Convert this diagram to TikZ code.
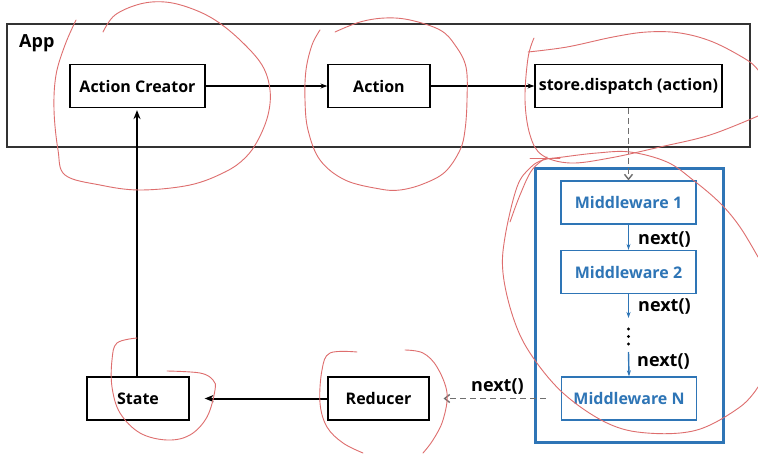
\documentclass[tikz,border=0pt]{standalone}
\usepackage{fontspec}
\setmainfont{Open Sans}
\usetikzlibrary{arrows.meta}
\definecolor{mwblue}{RGB}{46,117,182}
\definecolor{scribble}{RGB}{222,110,110}
\definecolor{dashgray}{RGB}{110,110,110}
\tikzset{
  box/.style={draw=black, line width=1.2pt, minimum height=43pt, inner sep=0pt,
    font=\fontsize{16}{18}\selectfont\bfseries, text=black, fill=white},
  mwbox/.style={draw=mwblue, line width=1.2pt, minimum width=135pt, minimum height=43pt, inner sep=0pt,
    font=\fontsize{16}{18}\selectfont\bfseries, text=mwblue, fill=white},
  lbl/.style={font=\fontsize{18}{20}\selectfont\bfseries, inner sep=0pt},
  flow/.style={-{Stealth[length=7pt,width=5pt]}, line width=1.5pt, black},
  thick flow/.style={-{Stealth[length=9pt,width=7pt]}, line width=2pt, black},
  blueflow/.style={-{Stealth[length=6pt,width=4pt]}, line width=1.4pt, mwblue},
  dashflow/.style={-{Straight Barb[length=5pt,width=8pt]}, line width=1.4pt, dashgray, dash pattern=on 6pt off 4pt},
  scrib/.style={draw=scribble, line width=0.9pt, line cap=round}
}
\begin{document}
\begin{tikzpicture}[x=1pt,y=-1pt]
\useasboundingbox (0,0) rectangle (758,455);
\fill[white] (0,0) rectangle (758,455);

% App frame
\node[draw=black!80, line width=1.6pt, minimum width=743pt, minimum height=123pt, inner sep=0pt, anchor=north west] (app) at (6,23) {};
\node[lbl, anchor=west] (applbl) at (19,43) {App};

% Top row
\node[box, minimum width=135pt] (ac) at (137.5,86) {Action Creator};
\node[box, minimum width=102pt] (act) at (379,86) {Action};
\node[box, minimum width=187pt] (disp) at (628.5,86) {store.dispatch (action)};

% Middleware frame
\node[draw=mwblue, line width=2.6pt, minimum width=188pt, minimum height=274pt, inner sep=0pt, anchor=north west] (mwframe) at (534,167) {};
\node[mwbox] (mw1) at (628.5,202.5) {Middleware 1};
\node[mwbox] (mw2) at (628.5,272) {Middleware 2};
\node[mwbox] (mwn) at (629,398.5) {Middleware N};
\coordinate (d1) at (628.5,318);
\coordinate (d2) at (628.5,352);
\node[inner sep=0pt] (dots) at (628.5,336.5) {};
\fill[black] (628.5,329) circle (1.7pt) (628.5,336.5) circle (1.7pt) (628.5,344) circle (1.7pt);

% Bottom row
\node[box, minimum width=102pt] (state) at (138,398.5) {State};
\node[box, minimum width=101pt] (red) at (378.5,398.5) {Reducer};

% Connectors
\draw[flow] (ac.east) -- (act.west);
\draw[flow] (act.east) -- (disp.west);
\draw[dashflow] (disp.south) -- (mw1.north);
\draw[blueflow] (mw1.south) -- (mw2.north);
\draw[blueflow] (mw2.south) -- (d1);
\draw[blueflow] (d2) -- (mwn.north);
\draw[dashflow, shorten <=15pt, shorten >=14pt] (mwn.west) -- (red.east);
\draw[thick flow, shorten >=15pt] (red.west) -- (state.east);
\draw[thick flow, shorten >=2pt] ([xshift=-1pt]state.north) -- ([xshift=-0.5pt]ac.south);

% Labels
\node[lbl, anchor=west] (n1) at (638,239) {next()};
\node[lbl, anchor=west] (n2) at (638,306) {next()};
\node[lbl, anchor=west] (n3) at (637,361) {next()};
\node[lbl, anchor=west] (n4) at (471,386) {next()};

% Red scribbles
\draw[scrib] plot[smooth, tension=0.6] coordinates {(103,32) (115,15) (140,4) (165,2) (190,8) (215,20) (240,40) (262,65) (270,90) (268,115) (258,140) (245,158) (225,172) (190,185) (140,190) (100,185) (65,175) (58,150) (54,110) (56,75) (65,45) (76,20)};
\draw[scrib] plot[smooth, tension=0.6] coordinates {(335,32) (360,22) (385,18) (410,20) (440,30) (455,45) (466,67) (467,100) (465,130) (460,150) (445,172) (423,184) (400,190) (380,189) (345,180) (320,160) (308,130) (305,100) (306,70) (312,45) (320,30)};
\draw[scrib] plot[smooth, tension=0.6] coordinates {(534,38) (528,58) (525,100) (530,135) (542,155) (570,163) (610,158) (660,147) (710,135) (758,116)};
\draw[scrib] plot[smooth, tension=0.6] coordinates {(528,52) (567,47) (613,37) (647,32) (680,33) (713,42) (747,60) (758,70)};
\draw[scrib] (530,158) -- (560,158);
\draw[scrib] plot[smooth, tension=0.6] coordinates {(758,257) (740,227) (720,203) (693,180) (667,162) (630,152) (597,153) (563,157) (543,160) (530,168) (517,187) (505,237) (503,273) (513,317) (530,353) (563,393) (607,423) (647,433) (697,430) (740,407) (758,387)};
\draw[scrib] plot[smooth, tension=0.6] coordinates {(510,222) (520,195) (532,170) (547,157)};
\draw[scrib] plot[smooth, tension=0.6] coordinates {(137,338) (117,343) (112,360) (112,387) (120,413) (140,433) (167,440) (190,435) (207,417) (215,390) (213,380) (200,373) (167,371)};
\draw[scrib] plot[smooth, tension=0.6] coordinates {(357,352) (330,353) (322,370) (320,403) (327,427) (343,443) (363,453)};
\draw[scrib] plot[smooth, tension=0.6] coordinates {(405,350) (423,353) (437,367) (447,393) (443,420) (433,440) (423,453)};
\end{tikzpicture}
\end{document}
